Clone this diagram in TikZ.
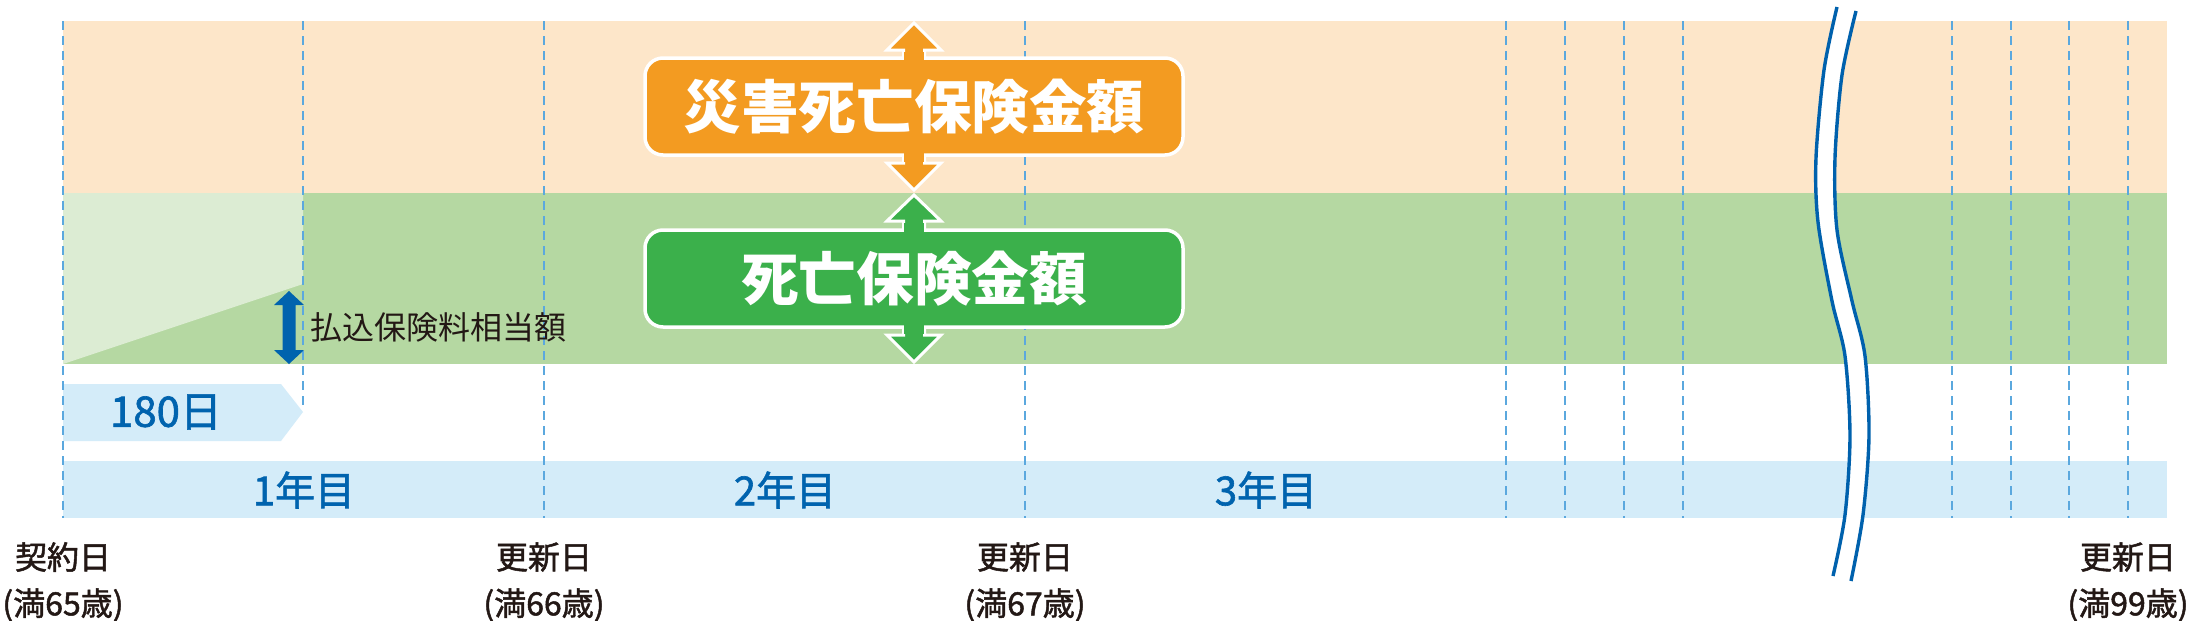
\documentclass[tikz,border=0pt]{standalone}
\usepackage{fontspec}
\setmainfont{Noto Sans CJK JP}
\newfontfamily\jpmed{Noto Sans CJK JP}[FakeBold=1.5]
\definecolor{bandorange}{HTML}{FDE6C9}
\definecolor{bandgreen}{HTML}{B5D8A2}
\definecolor{lightgreen}{HTML}{DCECD3}
\definecolor{boxorange}{HTML}{F39B21}
\definecolor{boxgreen}{HTML}{3BB04B}
\definecolor{bandblue}{HTML}{D4ECF9}
\definecolor{textblue}{HTML}{0063AE}
\definecolor{dashblue}{HTML}{5BA8DE}
\definecolor{breakblue}{HTML}{0061AD}
\definecolor{labelblack}{HTML}{231815}
\tikzset{
  guide/.style={draw=dashblue, line width=1pt, dash pattern=on 4.5pt off 3pt},
  bigbox/.style={rounded corners=9pt, draw=white, line width=1.75pt, minimum width=269pt, minimum height=48.5pt, inner sep=0pt, text=white, font=\fontsize{28.8pt}{30pt}\selectfont\bfseries},
  yearlabel/.style={text=textblue, font=\jpmed\fontsize{20pt}{22pt}\selectfont, inner sep=0pt},
  datelabel/.style={text=labelblack, font=\jpmed\fontsize{16pt}{18pt}\selectfont, inner sep=0pt},
  wave/.style={draw=breakblue, line width=1.7pt},
}
\begin{document}
\begin{tikzpicture}[x=0.5pt,y=-0.5pt]
\useasboundingbox (0,0) rectangle (2192,621);
\fill[white] (0,0) rectangle (2192,621);
% bands
\fill[bandorange] (63,21) rectangle (2167,193);
\fill[bandgreen] (63,193) rectangle (2167,364);
\fill[lightgreen] (63,193) -- (303,193) -- (303,284) -- (63,364) -- cycle;
\fill[bandblue] (63,461) rectangle (2167,518);
% 180 days pentagon
\fill[bandblue] (63,384) -- (281,384) -- (303,412) -- (281,441) -- (63,441) -- cycle;
\node[yearlabel, font=\jpmed\fontsize{21pt}{22pt}\selectfont] (days) at (166,412) {180日};
% guide lines
\foreach \gx in {63,544,1025,1506,1565,1624,1683,1952,2011,2069,2128}
  \draw[guide] (\gx,21) -- (\gx,518);
\draw[guide] (303,21) -- (303,410);
% premium arrow
\fill[textblue] (289,291) -- (304,305) -- (295.5,305) -- (295.5,350) -- (304,350) -- (289,364)
  -- (274,350) -- (282.5,350) -- (282.5,305) -- (274,305) -- cycle;
\node[datelabel, font=\fontsize{16pt}{18pt}\selectfont, anchor=west] (prem) at (310,327) {払込保険料相当額};
% orange arrow and box
\filldraw[fill=boxorange, draw=white, line width=1.5pt, line join=miter]
  (914,23) -- (941,50) -- (924.5,50) -- (924.5,163) -- (941,163) -- (914,190)
  -- (887,163) -- (903.5,163) -- (903.5,50) -- (887,50) -- cycle;
\node[bigbox, fill=boxorange] (acc) at (914,106.5) {災害死亡保険金額};
\fill[boxorange] (904.3,51.5) rectangle (923.7,64);
\fill[boxorange] (904.3,149) rectangle (923.7,161.5);
% green arrow and box
\filldraw[fill=boxgreen, draw=white, line width=1.5pt, line join=miter]
  (914,195) -- (941,221) -- (924.5,221) -- (924.5,335) -- (941,335) -- (914,362)
  -- (887,335) -- (903.5,335) -- (903.5,221) -- (887,221) -- cycle;
\node[bigbox, fill=boxgreen] (death) at (914,278.5) {死亡保険金額};
\fill[boxgreen] (904.3,222.5) rectangle (923.7,236);
\fill[boxgreen] (904.3,321) rectangle (923.7,333.5);
% year labels
\node[yearlabel] (y1) at (304,490) {1年目};
\node[yearlabel] (y2) at (785,490) {2年目};
\node[yearlabel] (y3) at (1266,490) {3年目};
% date labels
\node[datelabel] (d0) at (63,557) {契約日};
\node[datelabel] (a0) at (63,605) {(満65歳)};
\node[datelabel] (d1) at (544,557) {更新日};
\node[datelabel] (a1) at (544,605) {(満66歳)};
\node[datelabel] (d2) at (1025,557) {更新日};
\node[datelabel] (a2) at (1025,605) {(満67歳)};
\node[datelabel] (d3) at (2128,557) {更新日};
\node[datelabel] (a3) at (2128,605) {(満99歳)};
% break mark
\fill[white] plot[smooth] coordinates {(1837,7) (1824,70) (1816,158) (1818,222) (1832,301) (1845,356) (1850,436) (1845,515) (1833,576)}
  -- plot[smooth] coordinates {(1851,581) (1863,515) (1869,436) (1865,356) (1852,301) (1837,230) (1835,158) (1842,75) (1856,11)} -- cycle;
\draw[wave] plot[smooth] coordinates {(1837,7) (1824,70) (1816,158) (1818,222) (1832,301) (1845,356) (1850,436) (1845,515) (1833,576)};
\draw[wave] plot[smooth] coordinates {(1856,11) (1842,75) (1835,158) (1837,230) (1852,301) (1865,356) (1869,436) (1863,515) (1851,581)};
\end{tikzpicture}
\end{document}
